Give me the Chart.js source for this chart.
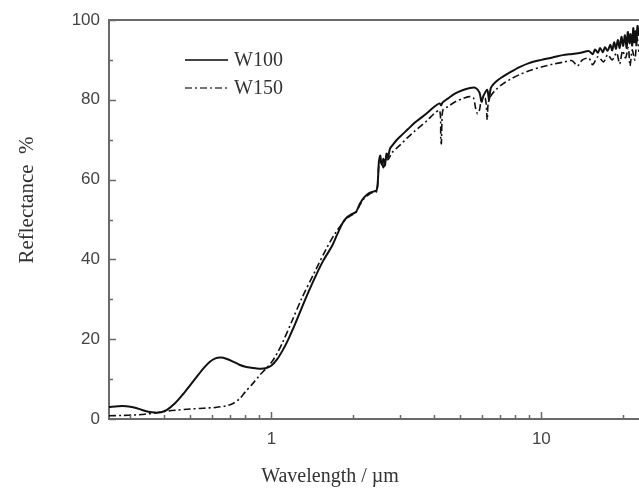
<!DOCTYPE html>
<html>
<head>
<meta charset="utf-8">
<script src="https://cdn.jsdelivr.net/npm/chart.js"></script>
<style>
  html, body { margin: 0; padding: 0; background: #fff; }
  #wrap { width: 639px; height: 488px; }
</style>
</head>
<body>
<div id="wrap"><canvas id="chart" width="639" height="488"></canvas></div>
<script>
// Wavelength (µm) and reflectance (%) for the two samples
const w100Wl = [0.25, 0.27, 0.29, 0.31, 0.33, 0.35, 0.37, 0.39, 0.41, 0.44, 0.47, 0.50, 0.53, 0.56, 0.59, 0.62, 0.65, 0.68, 0.72, 0.76, 0.80, 0.85, 0.90, 0.95, 1.0,
  1.05, 1.1, 1.15, 1.2, 1.27, 1.35, 1.45, 1.55, 1.68, 1.75, 1.83, 1.9, 1.97, 2.06, 2.12, 2.2, 2.3, 2.38, 2.45, 2.48, 2.5, 2.53, 2.56, 2.6, 2.63, 2.67, 2.7, 2.75, 2.8, 2.9,
  3.0, 3.2, 3.4, 3.6, 3.8, 4.0, 4.2, 4.25, 4.3, 4.5, 4.8, 5.1, 5.4, 5.7, 5.9, 6.0, 6.1, 6.3, 6.4, 6.5, 6.8, 7.2, 7.7, 8.3, 9.0, 10, 11, 12, 13, 14, 15,
  15.5, 15.8, 16.2, 16.5, 16.9, 17.2, 17.6, 18, 18.3, 18.6, 18.9, 19.2, 19.5, 19.8, 20.1, 20.4, 20.7, 20.9, 21.2, 21.4, 21.7, 21.9, 22.1, 22.3, 22.5, 22.7, 23];
const w100R = [3.0, 3.2, 3.2, 2.9, 2.3, 1.8, 1.6, 1.7, 2.3, 4.0, 6.2, 8.5, 10.7, 12.7, 14.3, 15.2, 15.4, 15.1, 14.4, 13.6, 13.1, 12.8, 12.6, 12.7, 13.4,
  15.0, 17.2, 19.7, 22.5, 26.5, 30.8, 35.5, 39.5, 43.5, 46.2, 49.0, 50.5, 51.2, 52.0, 53.8, 55.5, 56.6, 57.0, 57.3, 60.0, 64.5, 66.0, 63.8, 65.2, 63.5, 66.5, 65.6, 67.8, 68.5, 69.8,
  70.8, 72.6, 74.3, 75.6, 76.9, 78.2, 79.1, 78.6, 79.3, 80.3, 81.6, 82.4, 82.9, 83.0, 81.8, 79.5, 81.0, 82.5, 80.0, 83.0, 84.6, 85.8, 87.0, 88.2, 89.2, 90.0, 90.6, 91.2, 91.5, 91.8, 92.2,
  91.4, 92.6, 91.8, 93.0, 91.9, 93.2, 92.3, 93.8, 92.4, 94.4, 92.8, 95.0, 93.0, 95.8, 93.5, 96.2, 93.0, 97.0, 94.2, 96.5, 93.6, 98.0, 94.4, 97.2, 94.0, 98.5, 96.0];

const w150Wl = [0.25, 0.28, 0.31, 0.34, 0.37, 0.40, 0.44, 0.50, 0.56, 0.62, 0.68, 0.72, 0.76, 0.80, 0.85, 0.90, 0.95, 1.0, 1.05, 1.1, 1.19, 1.3, 1.45, 1.6, 1.72, 1.83,
  1.9, 1.97, 2.06, 2.12, 2.2, 2.3, 2.38, 2.45, 2.48, 2.5, 2.55, 2.6, 2.65, 2.7, 2.8, 2.9, 3.0, 3.2, 3.4, 3.6, 3.8, 4.0, 4.2, 4.24, 4.26, 4.28, 4.32, 4.5,
  4.8, 5.1, 5.4, 5.6, 5.7, 5.8, 5.9, 6.0, 6.2, 6.3, 6.35, 6.5, 6.8, 7.2, 7.7, 8.3, 9.0, 10, 11, 12, 13, 13.6, 14.2, 15, 15.5, 16.2, 17, 17.6, 18.3, 19,
  19.5, 20, 20.5, 21, 21.3, 21.7, 22.2, 22.6, 23];
const w150R = [0.8, 0.9, 1.0, 1.2, 1.5, 1.9, 2.2, 2.5, 2.7, 2.9, 3.3, 3.9, 5.0, 6.8, 8.8, 10.8, 12.5, 14.2, 16.5, 19.2, 24.5, 30.5, 37.0, 42.8, 46.5, 49.0,
  50.3, 51.0, 51.8, 53.5, 55.2, 56.3, 56.8, 57.0, 59.5, 63.5, 64.5, 63.0, 65.5, 65.0, 66.8, 67.8, 68.7, 70.6, 72.2, 73.6, 75.0, 76.5, 77.3, 70.0, 69.0, 74.0, 77.5, 78.3,
  79.5, 80.3, 80.8, 80.5, 78.0, 76.5, 77.5, 80.0, 80.3, 75.0, 79.0, 81.0, 82.6, 84.0, 85.2, 86.3, 87.3, 88.2, 88.9, 89.4, 89.8, 88.5, 90.0, 90.4, 88.8, 90.8, 89.5, 91.3, 90.0, 91.8,
  89.0, 92.3, 90.5, 93.0, 88.5, 92.5, 90.0, 95.5, 92.0];

// Axis ticks
const xTickValues = [1, 10];
const xMinorTicks = [0.3, 0.4, 0.5, 0.6, 0.7, 0.8, 0.9, 2, 3, 4, 5, 6, 7, 8, 9, 20];
const yTickValues = [0, 20, 40, 60, 80, 100];
const yMinorTicks = [10, 30, 50, 70, 90];

const seriesNames = ['W100', 'W150'];
const axisColor = '#6a6a6a';
const lineColor = '#111';

function toPoints(xs, ys) {
  return xs.map((x, i) => ({ x: x, y: ys[i] }));
}

// frame top line, inward ticks, legend and axis titles
const decorPlugin = {
  id: 'decor',
  afterDraw(chart) {
    const ctx = chart.ctx;
    const area = chart.chartArea;
    const xs = chart.scales.x;
    const ys = chart.scales.y;
    ctx.save();
    ctx.strokeStyle = axisColor;
    ctx.lineWidth = 2;
    ctx.beginPath();
    ctx.moveTo(area.left - 1, area.top);
    ctx.lineTo(area.right + 2, area.top);
    ctx.stroke();

    ctx.lineWidth = 1.5;
    ctx.beginPath();
    xTickValues.forEach(v => {
      const px = Math.round(xs.getPixelForValue(v)) + 0.5;
      ctx.moveTo(px, area.bottom); ctx.lineTo(px, area.bottom - 7);
    });
    xMinorTicks.forEach(v => {
      const px = Math.round(xs.getPixelForValue(v)) + 0.5;
      ctx.moveTo(px, area.bottom); ctx.lineTo(px, area.bottom - 4);
    });
    yTickValues.forEach(v => {
      const py = Math.round(ys.getPixelForValue(v)) + 0.5;
      ctx.moveTo(area.left, py); ctx.lineTo(area.left + 7, py);
    });
    yMinorTicks.forEach(v => {
      const py = Math.round(ys.getPixelForValue(v)) + 0.5;
      ctx.moveTo(area.left, py); ctx.lineTo(area.left + 4, py);
    });
    ctx.stroke();

    // legend
    ctx.strokeStyle = '#444';
    ctx.fillStyle = '#333';
    ctx.font = '20px "Liberation Serif", "Times New Roman", serif';
    ctx.textBaseline = 'middle';
    chart.data.datasets.forEach((ds, i) => {
      const ly = 60 + i * 28;
      ctx.lineWidth = i === 0 ? 2.2 : 1.6;
      ctx.setLineDash(ds.borderDash || []);
      ctx.beginPath();
      ctx.moveTo(185, ly); ctx.lineTo(228, ly);
      ctx.stroke();
      ctx.setLineDash([]);
      ctx.fillText(seriesNames[i], 234, ly + 1);
    });

    // axis titles
    ctx.textAlign = 'center';
    ctx.textBaseline = 'alphabetic';
    ctx.fillText('Wavelength / \u00b5m', 330, 482);
    ctx.font = '21px "Liberation Serif", "Times New Roman", serif';
    ctx.translate(33, 200);
    ctx.rotate(-Math.PI / 2);
    ctx.fillText('Reflectance  %', 0, 0);
    ctx.restore();
  }
};

const ctx = document.getElementById('chart').getContext('2d');
new Chart(ctx, {
  type: 'line',
  data: {
    datasets: [
      {
        label: seriesNames[0],
        data: toPoints(w100Wl, w100R),
        borderColor: lineColor,
        borderWidth: 2,
        pointRadius: 0,
        tension: 0.3,
        fill: false
      },
      {
        label: seriesNames[1],
        data: toPoints(w150Wl, w150R),
        borderColor: lineColor,
        borderWidth: 1.6,
        borderDash: [7, 3, 2, 3],
        pointRadius: 0,
        tension: 0.3,
        fill: false
      }
    ]
  },
  options: {
    responsive: false,
    animation: false,
    devicePixelRatio: 1,
    layout: { padding: { top: 20, right: 0, left: 0, bottom: 0 } },
    plugins: { legend: { display: false }, tooltip: { enabled: false } },
    scales: {
      x: {
        type: 'logarithmic',
        min: 0.25,
        max: 23,
        afterBuildTicks: s => { s.ticks = xTickValues.map(v => ({ value: v })); },
        afterFit: s => { s.height = 69; },
        grid: { display: true, drawOnChartArea: false, drawTicks: false },
        border: { display: true, color: axisColor, width: 2 },
        ticks: {
          autoSkip: false,
          maxRotation: 0,
          padding: 10,
          color: '#444',
          font: { family: '"Liberation Sans", Arial, sans-serif', size: 17 },
          callback: v => String(v)
        }
      },
      y: {
        min: 0,
        max: 100,
        afterBuildTicks: s => { s.ticks = yTickValues.map(v => ({ value: v })); },
        afterFit: s => { s.width = 109; },
        grid: { display: true, drawOnChartArea: false, drawTicks: false },
        border: { display: true, color: axisColor, width: 2 },
        ticks: {
          padding: 9,
          color: '#444',
          font: { family: '"Liberation Sans", Arial, sans-serif', size: 17 }
        }
      }
    }
  },
  plugins: [decorPlugin]
});
</script>
</body>
</html>
